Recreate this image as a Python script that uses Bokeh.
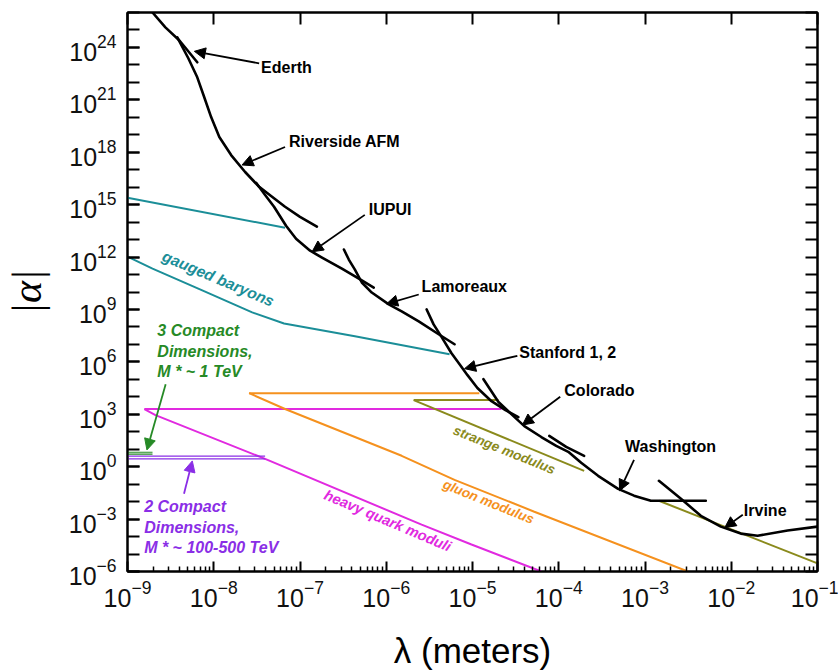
import math
from bokeh.plotting import figure
from bokeh.models import (Range1d, FixedTicker, LogAxis, CustomJSTickFormatter,
                          Arrow, NormalHead, LogTickFormatter)
from bokeh.core.properties import value
from bokeh.embed import file_html
from bokeh.resources import INLINE

# ---------------- data (lambda in metres, |alpha|) ----------------
ederth_lam = [1.95e-9, 2.75e-9, 4.0e-9, 6.44e-9]
ederth_alpha = [1e26, 1.41e25, 2.5e24, 1.41e23]

riverside_lam = [3.78e-9, 5.07e-9, 6.44e-9, 7.76e-9, 9.35e-9, 1.16e-8, 1.59e-8,
                 2.31e-8, 3.36e-8, 4.74e-8, 6.71e-8, 1.0e-7, 1.57e-7]
riverside_alpha = [3.8e24, 2.4e23, 1.95e22, 1.41e21, 1.0e20, 7.4e18, 6.9e17,
                   7.4e16, 1.05e16, 2.8e15, 7.6e14, 2.0e14, 5.5e13]

iupui_lam = [3.10e-8, 3.94e-8, 5.0e-8, 6.89e-8, 9.0e-8, 1.31e-7, 1.80e-7,
             3.06e-7, 5.21e-7, 7.16e-7]
iupui_alpha = [1.78e16, 3.6e15, 7.6e14, 6.2e13, 1.12e13, 2.3e12, 9.3e11,
               2.2e11, 4.6e10, 1.8e10]

lamoreaux_lam = [3.23e-7, 3.68e-7, 4.33e-7, 5.21e-7, 6.79e-7, 1.07e-6, 1.51e-6,
                 2.38e-6, 4.05e-6, 6.19e-6]
lamoreaux_alpha = [2.7e12, 7.2e11, 1.9e11, 3.5e10, 9.3e9, 1.95e9, 7.8e8,
                   2.1e8, 3.8e7, 1.02e7]

stanford_lam = [2.94e-6, 3.54e-6, 4.39e-6, 5.71e-6, 7.08e-6, 8.75e-6, 1.14e-5,
                1.66e-5, 2.41e-5, 3.40e-5]
stanford_alpha = [1.0e9, 1.40e8, 2.6e7, 3.1e6, 7.4e5, 1.74e5, 3.2e4,
                  5.6e3, 1.74e3, 6.9e2]

colorado_lam = [1.34e-5, 2.0e-5, 2.82e-5, 3.99e-5, 6.28e-5, 9.35e-5, 1.29e-4,
                1.82e-4, 2.86e-4, 4.88e-4, 7.46e-4, 1.17e-3, 5.07e-3]
colorado_alpha = [1.02e5, 5.0e3, 1.02e3, 2.1e2, 50, 15.5, 7.1,
                  1.66, 0.30, 0.054, 0.022, 0.0112, 0.0112]

washington_lam = [7.76e-5, 1.22e-4, 1.97e-4]
washington_alpha = [58, 13.5, 4.2]

irvine_lam = [1.45e-3, 2.61e-3, 4.44e-3, 7.57e-3, 1.29e-2, 2.02e-2, 4.50e-2, 1e-1]
irvine_alpha = [0.155, 0.0145, 1.55e-3, 3.7e-4, 1.48e-4, 1.12e-4, 2.2e-4, 3.7e-4]

baryon_hi_lam = [1e-9, 6.71e-8]
baryon_hi_alpha = [2.46e15, 4.8e13]
baryon_lo_lam = [1e-9, 1.95e-9, 7.36e-9, 2.79e-8, 6.53e-8, 4.33e-7, 5.42e-6]
baryon_lo_alpha = [1.07e12, 2.2e11, 1.23e10, 6.8e8, 1.58e8, 2.9e7, 2.75e6]

quark_lam = [1.57e-9, 2.11e-9, 3.94e-8, 2.57e-6, 9.73e-6, 6.28e-5]
quark_alpha = [2.0e3, 9.0e2, 2.8, 4.8e-4, 3.5e-5, 1e-6]
quark_top_lam = [1.57e-9, 2.16e-5]
quark_top_alpha = [2.0e3, 2.0e3]

gluon_lam = [2.57e-8, 6.71e-8, 1.51e-6, 6.19e-6, 5.21e-5, 3.14e-3]
gluon_alpha = [1.62e4, 2.0e3, 4.2, 0.177, 2.65e-3, 1e-6]
gluon_top_lam = [2.57e-8, 1.20e-5]
gluon_top_alpha = [1.62e4, 1.62e4]

strange_lam = [2.08e-6, 1.97e-4]
strange_alpha = [6.5e3, 0.575]
strange2_lam = [1.45e-3, 1e-1]
strange2_alpha = [0.0112, 2.9e-6]
strange_top_lam = [2.08e-6, 2.0e-5]
strange_top_alpha = [6.5e3, 6.5e3]

compact3_lam = [1e-9, 1.95e-9]
compact3_alpha = [6.7, 5.2]
compact2_lam = [1e-9, 3.94e-8]
compact2_alpha = [4.0, 2.8]

# experiment labels and their arrows
exp_names = ["Ederth", "Riverside AFM", "IUPUI", "Lamoreaux", "Stanford 1, 2",
             "Colorado", "Washington", "Irvine"]
exp_text_lam = [3.54e-8, 7.46e-8, 6.28e-7, 2.57e-6, 3.49e-5, 1.16e-4, 5.88e-4, 1.40e-2]
exp_text_alpha = [6.9e22, 4.4e18, 5.1e14, 1.94e10, 3.55e6, 2.4e4, 13.5, 3.0e-3]
arrow_start_lam = [3.36e-8, 6.71e-8, 5.64e-7, 2.38e-6, 3.31e-5, 1.04e-4, 7.46e-4, 1.36e-2]
arrow_start_alpha = [1.23e23, 2.0e18, 2.6e14, 7.2e9, 2.24e6, 1.02e4, 2.45, 1.79e-3]
arrow_end_lam = [5.96e-9, 2.13e-8, 1.38e-7, 1.01e-6, 8.09e-6, 3.79e-5, 5.07e-4, 8.41e-3]
arrow_end_alpha = [6.0e23, 1.87e17, 2.0e12, 2.1e9, 4.1e5, 2.43e2, 0.0418, 3.24e-4]

compact3_text = ["3 Compact", "Dimensions,", "M * ~ 1 TeV"]
compact3_text_lam = [2.22e-9, 2.22e-9, 2.22e-9]
compact3_text_alpha = [6.3e7, 4.1e6, 2.75e5]
compact3_arrow = [2.77e-9, 5.3e4, 1.68e-9, 9.1]

compact2_text = ["2 Compact", "Dimensions,", "M * ~ 100-500 TeV"]
compact2_text_lam = [1.56e-9, 1.56e-9, 1.56e-9]
compact2_text_alpha = [5.4e-3, 3.46e-4, 2.34e-5]
compact2_arrow = [4.52e-9, 0.028, 5.64e-9, 2.14]

theory_names = ["gauged baryons", "strange modulus", "gluon modulus", "heavy quark moduli"]
theory_lam = [1.13e-8, 2.34e-5, 1.53e-5, 1.04e-6]
theory_alpha = [5.9e10, 9.1, 9.8e-3, 8.1e-4]
theory_angle_deg = [-23, -22, -22, -23]
theory_size = ["15.5px", "13.5px", "13.5px", "14.5px"]

x_major = [1e-9, 1e-8, 1e-7, 1e-6, 1e-5, 1e-4, 1e-3, 1e-2, 1e-1]
x_minor = [m * d for d in x_major[:-1] for m in range(2, 10)]
y_major = [10.0 ** k for k in range(-6, 25, 3)]
y_minor = [10.0 ** k for k in range(-6, 27)]

# ---------------- colours ----------------
TEAL = "#1b8e98"
MAGENTA = "#e12ae0"
ORANGE = "#f5911e"
OLIVE = "#8a8a1c"
GREEN = "#268a26"
PURPLE = "#8a2ee6"
FONT = value("Liberation Sans")

p = figure(width=838, height=672, x_axis_type="log", y_axis_type="log",
           x_range=Range1d(1e-9, 1e-1), y_range=Range1d(1e-6, 1e26),
           output_backend="svg", toolbar_location=None,
           min_border_left=125, min_border_right=21,
           min_border_top=12, min_border_bottom=99)
p.xgrid.visible = False
p.ygrid.visible = False
p.outline_line_color = "black"
p.outline_line_width = 2
p.background_fill_color = "white"
p.border_fill_color = "white"

# bottom axis
xa = p.xaxis[0]
xa.ticker = FixedTicker(ticks=x_major, minor_ticks=x_minor)
xa.formatter = LogTickFormatter()
xa.major_tick_in = 10
xa.major_tick_out = 0
xa.minor_tick_in = 5
xa.minor_tick_out = 0
xa.axis_line_width = 2
xa.major_tick_line_width = 2
xa.minor_tick_line_width = 1.5
xa.major_label_text_font = "Liberation Sans"
xa.major_label_text_font_size = "25px"
xa.major_label_text_color = "#111111"
xa.major_label_standoff = 8
xa.axis_label = "λ (meters)"
xa.axis_label_text_font = "Liberation Sans"
xa.axis_label_text_font_style = "normal"
xa.axis_label_text_font_size = "35px"
xa.axis_label_text_color = "black"
xa.axis_label_standoff = 21

# left axis
ya = p.yaxis[0]
ya.ticker = FixedTicker(ticks=y_major, minor_ticks=y_minor)
ya.formatter = LogTickFormatter()
ya.major_tick_in = 12
ya.major_tick_out = 0
ya.minor_tick_in = 12
ya.minor_tick_out = 0
ya.axis_line_width = 2
ya.major_tick_line_width = 2
ya.minor_tick_line_width = 2
ya.major_label_text_font = "Liberation Sans"
ya.major_label_text_font_size = "25px"
ya.major_label_text_color = "#111111"
ya.major_label_standoff = 11
ya.axis_label = "|α|"
ya.axis_label_text_font = "Liberation Serif"
ya.axis_label_text_font_style = "italic"
ya.axis_label_text_font_size = "42px"
ya.axis_label_text_color = "black"
ya.axis_label_standoff = 16

# top & right axes (ticks only)
blank = CustomJSTickFormatter(code="return ''")
top = LogAxis(ticker=FixedTicker(ticks=x_major, minor_ticks=[]), formatter=blank,
              major_tick_in=12, major_tick_out=0, minor_tick_in=0, minor_tick_out=0,
              axis_line_width=2, major_tick_line_width=2,
              major_label_text_font_size="0px", major_label_standoff=0)
p.add_layout(top, "above")
right = LogAxis(ticker=FixedTicker(ticks=y_minor, minor_ticks=[]), formatter=blank,
                major_tick_in=12, major_tick_out=0, minor_tick_in=0, minor_tick_out=0,
                axis_line_width=2, major_tick_line_width=2,
                major_label_text_font_size="0px", major_label_standoff=0)
p.add_layout(right, "right")

# ---------------- theory curves ----------------
p.line(baryon_hi_lam, baryon_hi_alpha, line_color=TEAL, line_width=2)
p.line(baryon_lo_lam, baryon_lo_alpha, line_color=TEAL, line_width=2)
p.line(quark_top_lam, quark_top_alpha, line_color=MAGENTA, line_width=2)
p.line(quark_lam, quark_alpha, line_color=MAGENTA, line_width=2)
p.line(gluon_top_lam, gluon_top_alpha, line_color=ORANGE, line_width=2)
p.line(gluon_lam, gluon_alpha, line_color=ORANGE, line_width=2)
p.line(strange_top_lam, strange_top_alpha, line_color=OLIVE, line_width=2)
p.line(strange_lam, strange_alpha, line_color=OLIVE, line_width=2)
p.line(strange2_lam, strange2_alpha, line_color=OLIVE, line_width=2)
for a in compact3_alpha:
    p.line(compact3_lam, [a, a], line_color=GREEN, line_width=1.2)
for a in compact2_alpha:
    p.line(compact2_lam, [a, a], line_color=PURPLE, line_width=1.2)

# ---------------- experimental limits ----------------
for xs, ys in [(ederth_lam, ederth_alpha), (riverside_lam, riverside_alpha),
               (iupui_lam, iupui_alpha), (lamoreaux_lam, lamoreaux_alpha),
               (stanford_lam, stanford_alpha), (colorado_lam, colorado_alpha),
               (washington_lam, washington_alpha), (irvine_lam, irvine_alpha)]:
    p.line(xs, ys, line_color="black", line_width=2.6, line_join="round", line_cap="round")

# experiment labels
p.text(x=exp_text_lam, y=exp_text_alpha, text=exp_names, text_color="black",
       text_font=FONT, text_font_size=value("16px"), text_font_style="bold",
       text_align="left", text_baseline="middle")
for i in range(len(exp_names)):
    p.add_layout(Arrow(end=NormalHead(size=11, fill_color="black", line_color="black", line_width=1),
                       x_start=arrow_start_lam[i], y_start=arrow_start_alpha[i],
                       x_end=arrow_end_lam[i], y_end=arrow_end_alpha[i],
                       line_color="black", line_width=1.8))

# compact dimensions labels
p.text(x=compact3_text_lam, y=compact3_text_alpha, text=compact3_text, text_color=GREEN,
       text_font=FONT, text_font_size=value("16px"), text_font_style="bold italic",
       text_align="left", text_baseline="middle")
p.add_layout(Arrow(end=NormalHead(size=11, fill_color=GREEN, line_color=GREEN, line_width=1),
                   x_start=compact3_arrow[0], y_start=compact3_arrow[1],
                   x_end=compact3_arrow[2], y_end=compact3_arrow[3],
                   line_color=GREEN, line_width=1.8))
p.text(x=compact2_text_lam, y=compact2_text_alpha, text=compact2_text, text_color=PURPLE,
       text_font=FONT, text_font_size=value("16px"), text_font_style="bold italic",
       text_align="left", text_baseline="middle")
p.add_layout(Arrow(end=NormalHead(size=11, fill_color=PURPLE, line_color=PURPLE, line_width=1),
                   x_start=compact2_arrow[0], y_start=compact2_arrow[1],
                   x_end=compact2_arrow[2], y_end=compact2_arrow[3],
                   line_color=PURPLE, line_width=1.8))

# theory labels (rotated)
theory_colors = [TEAL, OLIVE, ORANGE, MAGENTA]
for i in range(len(theory_names)):
    p.text(x=[theory_lam[i]], y=[theory_alpha[i]], text=[theory_names[i]],
           text_color=theory_colors[i], text_font=FONT,
           text_font_size=value(theory_size[i]), text_font_style="bold italic",
           text_align="center", text_baseline="middle",
           angle=math.radians(theory_angle_deg[i]))

open("out.html", "w").write(file_html(p, INLINE))
